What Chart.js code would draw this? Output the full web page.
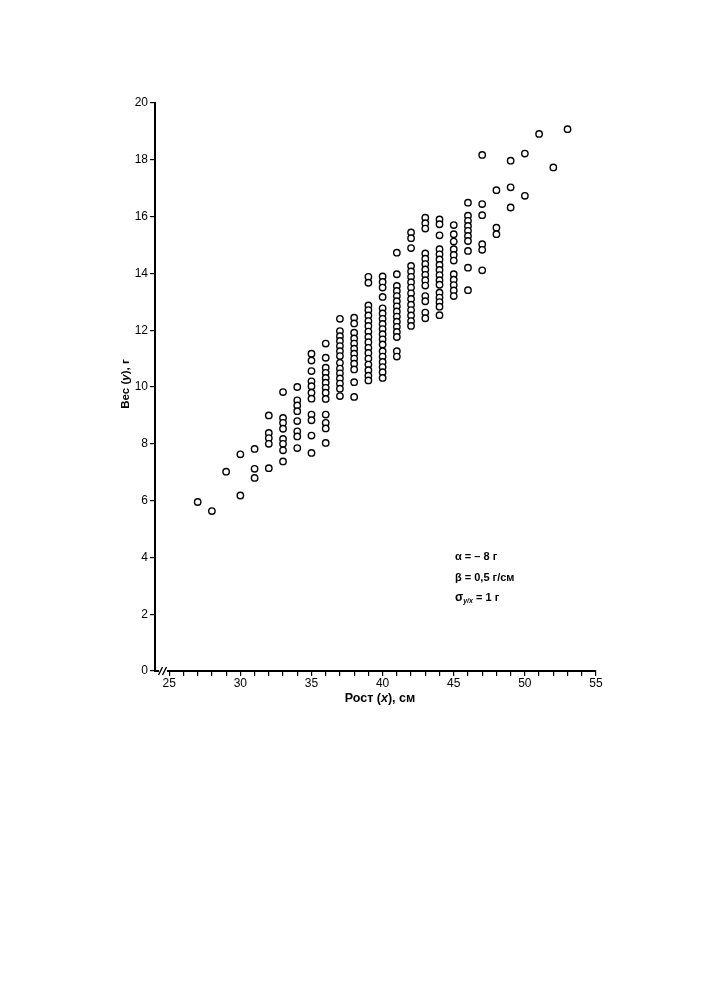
<!DOCTYPE html>
<html>
<head>
<meta charset="utf-8">
<style>
  html, body { margin: 0; padding: 0; background: #fff; }
  #wrap { width: 705px; height: 1000px; position: relative; }
</style>
<script src="https://cdn.jsdelivr.net/npm/chart.js@4.4.1/dist/chart.umd.min.js"></script>
</head>
<body>
<div id="wrap"><canvas id="chart" width="705" height="1000"></canvas></div>
<script>
// Heights (x, cm) - one column of points per height
const heights = [27, 28, 29, 30, 31, 32, 33, 34, 35, 36, 37, 38, 39, 40,
                 41, 42, 43, 44, 45, 46, 47, 48, 49, 50, 51, 52, 53];

// Weights (y, g) measured at each height
const weights = [
    [5.95],
    [5.63],
    [7.02],
    [7.63, 6.18],
    [7.82, 7.12, 6.8],
    [9.0, 8.38, 8.2, 8.0, 7.14],
    [9.82, 8.91, 8.74, 8.53, 8.17, 8.0, 7.77, 7.38],
    [10.0, 9.53, 9.35, 9.15, 8.8, 8.44, 8.26, 7.85],
    [11.17, 10.93, 10.56, 10.2, 10.03, 9.8, 9.59, 9.03, 8.83, 8.29, 7.68],
    [11.53, 11.03, 10.68, 10.5, 10.32, 10.15, 9.97, 9.8, 9.58, 9.03, 8.74, 8.54, 8.03],
    [12.4, 11.97, 11.79, 11.62, 11.44, 11.26, 11.09, 10.85, 10.65, 10.48, 10.3, 10.12, 9.94, 9.68],
    [12.44, 12.24, 11.91, 11.71, 11.53, 11.35, 11.17, 11.0, 10.82, 10.62, 10.17, 9.65],
    [13.88, 13.67, 12.87, 12.71, 12.52, 12.32, 12.15, 11.95, 11.76, 11.58, 11.38, 11.2, 11.0, 10.79, 10.59, 10.4, 10.23],
    [13.89, 13.7, 13.5, 13.17, 12.77, 12.59, 12.4, 12.22, 12.04, 11.86, 11.68, 11.5, 11.26, 11.07, 10.88, 10.7, 10.52, 10.32],
    [14.73, 13.97, 13.56, 13.38, 13.2, 13.02, 12.84, 12.66, 12.48, 12.3, 12.12, 11.94, 11.76, 11.26, 11.07],
    [15.44, 15.24, 14.89, 14.26, 14.07, 13.88, 13.69, 13.5, 13.3, 13.1, 12.9, 12.71, 12.52, 12.32, 12.15],
    [15.96, 15.77, 15.58, 14.7, 14.52, 14.33, 14.14, 13.95, 13.76, 13.57, 13.2, 13.02, 12.62, 12.42],
    [15.9, 15.73, 15.34, 14.85, 14.67, 14.49, 14.3, 14.12, 13.94, 13.76, 13.6, 13.32, 13.15, 12.99, 12.83, 12.53],
    [15.7, 15.38, 15.12, 14.85, 14.65, 14.45, 13.97, 13.78, 13.59, 13.4, 13.2],
    [16.49, 16.03, 15.85, 15.67, 15.5, 15.32, 15.14, 14.79, 14.2, 13.41],
    [18.17, 16.44, 16.05, 15.03, 14.83, 14.11],
    [16.93, 15.61, 15.38],
    [17.97, 17.03, 16.32],
    [18.22, 16.73],
    [18.91],
    [17.73],
    [19.08]
];

// Axis ranges and tick values
const xMin = 24, xMax = 55;
const xTicks = [25, 26, 27, 28, 29, 30, 31, 32, 33, 34, 35, 36, 37, 38, 39, 40,
                41, 42, 43, 44, 45, 46, 47, 48, 49, 50, 51, 52, 53, 54, 55];
const yTicks = [0, 2, 4, 6, 8, 10, 12, 14, 16, 18, 20];

const FONT = "'Liberation Sans', Arial, sans-serif";

// Build scatter points
const points = [];
heights.forEach((h, i) => {
    weights[i].forEach(w => points.push({ x: h, y: w }));
});

// Draw a line of mixed-style text pieces, starting at x
const drawParts = (ctx, parts, x, y) => {
    parts.forEach(p => {
        ctx.font = p.font;
        ctx.fillText(p.text, x, y + (p.dy || 0));
        x += ctx.measureText(p.text).width;
    });
    return x;
};

const partsWidth = (ctx, parts) => parts.reduce((sum, p) => {
    ctx.font = p.font;
    return sum + ctx.measureText(p.text).width;
}, 0);

// Axis titles, axis break and parameter notes
const decorPlugin = {
    id: 'decor',
    afterDraw(chart) {
        const ctx = chart.ctx;
        const area = chart.chartArea;
        ctx.save();
        ctx.fillStyle = '#000';
        ctx.textBaseline = 'middle';

        // x title
        const xb = 'bold 12.5px ' + FONT;
        const xt = [{ text: 'Рост (', font: xb }, { text: 'x', font: 'italic ' + xb }, { text: '), см', font: xb }];
        const xw = partsWidth(ctx, xt);
        drawParts(ctx, xt, 380 - xw / 2, 699);

        // y title (rotated)
        const yb = 'bold 11.5px ' + FONT;
        const yt = [{ text: 'Вес (', font: yb }, { text: 'y', font: 'italic ' + yb }, { text: '), г', font: yb }];
        const yw = partsWidth(ctx, yt);
        ctx.save();
        ctx.translate(126, 384);
        ctx.rotate(-Math.PI / 2);
        drawParts(ctx, yt, -yw / 2, 0);
        ctx.restore();

        // axis break mark near the origin
        const by = area.bottom;
        ctx.fillStyle = '#fff';
        ctx.fillRect(area.left + 4, by - 2, 8, 4);
        ctx.strokeStyle = '#000';
        ctx.lineWidth = 1.4;
        [area.left + 5, area.left + 9].forEach(bx => {
            ctx.beginPath();
            ctx.moveTo(bx - 1.5, by + 4);
            ctx.lineTo(bx + 2.5, by - 4);
            ctx.stroke();
        });

        // model parameters
        ctx.fillStyle = '#000';
        const nx = 455;
        drawParts(ctx, [{ text: 'α = – 8 г', font: 'bold 11px ' + FONT }], nx, 557);
        drawParts(ctx, [{ text: 'β = 0,5 г/см', font: 'bold 11px ' + FONT }], nx, 578);
        drawParts(ctx, [
            { text: 'σ', font: 'bold 12px ' + FONT },
            { text: 'y/x', font: 'italic bold 7px ' + FONT, dy: 3 },
            { text: ' = 1 г', font: 'bold 11px ' + FONT }
        ], nx, 598);
        ctx.restore();
    }
};

const ctx = document.getElementById('chart').getContext('2d');
new Chart(ctx, {
    type: 'scatter',
    data: {
        datasets: [{
            data: points,
            pointStyle: 'circle',
            pointRadius: 3.2,
            pointBorderWidth: 1.4,
            pointBorderColor: '#000',
            pointBackgroundColor: '#fff'
        }]
    },
    options: {
        responsive: false,
        animation: false,
        events: [],
        layout: { padding: { left: 108, right: 109, top: 103, bottom: 289 } },
        plugins: {
            legend: { display: false },
            tooltip: { enabled: false }
        },
        scales: {
            x: {
                type: 'linear',
                min: xMin,
                max: xMax,
                afterBuildTicks: scale => { scale.ticks = xTicks.map(v => ({ value: v })); },
                afterFit: scale => { scale.height = 40; },
                ticks: {
                    autoSkip: false,
                    maxRotation: 0,
                    padding: 0,
                    color: '#000',
                    font: { family: FONT, size: 12 },
                    callback: v => (v % 5 === 0 ? String(v) : '')
                },
                grid: { drawOnChartArea: false, drawTicks: true, tickLength: 5, color: '#000', lineWidth: 1.2 },
                border: { display: true, color: '#000', width: 2 }
            },
            y: {
                type: 'linear',
                min: 0,
                max: 20,
                afterBuildTicks: scale => { scale.ticks = yTicks.map(v => ({ value: v })); },
                afterFit: scale => { scale.width = 47; },
                ticks: {
                    padding: 2,
                    color: '#000',
                    font: { family: FONT, size: 12 }
                },
                grid: { drawOnChartArea: false, drawTicks: true, tickLength: 5, color: '#000', lineWidth: 1.2 },
                border: { display: true, color: '#000', width: 2 }
            }
        }
    },
    plugins: [decorPlugin]
});
</script>
</body>
</html>
